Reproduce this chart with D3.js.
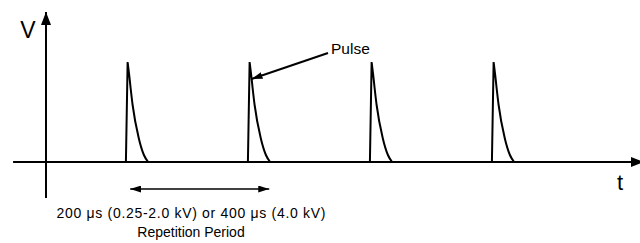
<!DOCTYPE html>
<html>
<head>
<meta charset="utf-8">
<script src="https://cdn.jsdelivr.net/npm/d3@7"></script>
<style>
  body { margin: 0; background: #fff; }
  text { font-family: "Liberation Sans", Arial, sans-serif; fill: #000; }
</style>
</head>
<body>
<div id="chart"></div>
<script>
const W = 640, H = 243;

// pulse onsets (µs) and one pulse shape [dt µs, relative V]
const pulseStarts = [131, 331, 531, 731];
const riseShape = [[0, 0], [2.8, 1]];
const decayShape = [[2.8, 1], [5.4, 0.87], [7.7, 0.74], [11, 0.57], [21, 0.24], [29.5, 0.07], [36.5, 0]];

// axis extents and annotation positions (µs / V units)
const xAxisRange = [-54, 980];
const yAxisRange = [-0.36, 1.5];
const periodSpan = [138, 366];
const periodLines = ["200 μs (0.25-2.0 kV) or 400 μs (4.0 kV)", "Repetition Period"];
const pulseLabel = "Pulse";

const x = d3.scaleLinear().domain([0, 1000]).range([46, 656]);
const y = d3.scaleLinear().domain([0, 1]).range([162, 62]);

const svg = d3.select("#chart")
  .append("svg")
  .attr("width", W)
  .attr("height", H);

// arrowheads
const defs = svg.append("defs");
function marker(id, len, wid) {
  defs.append("marker")
    .attr("id", id)
    .attr("markerUnits", "userSpaceOnUse")
    .attr("markerWidth", len)
    .attr("markerHeight", wid)
    .attr("refX", len)
    .attr("refY", wid / 2)
    .attr("orient", "auto-start-reverse")
    .append("path")
    .attr("d", `M0,0L${len},${wid / 2}L0,${wid}Z`)
    .attr("fill", "#000");
}
marker("axisHead", 13, 10);
marker("smallHead", 11, 7);

// axes
svg.append("line")
  .attr("x1", x(xAxisRange[0])).attr("x2", x(xAxisRange[1]))
  .attr("y1", y(0)).attr("y2", y(0))
  .attr("stroke", "#000").attr("stroke-width", 2)
  .attr("marker-end", "url(#axisHead)");

svg.append("line")
  .attr("x1", x(0)).attr("x2", x(0))
  .attr("y1", y(yAxisRange[0])).attr("y2", y(yAxisRange[1]))
  .attr("stroke", "#000").attr("stroke-width", 2)
  .attr("marker-end", "url(#axisHead)");

svg.append("text")
  .attr("x", 28).attr("y", 38)
  .attr("text-anchor", "middle")
  .style("font-size", "23px")
  .text("V");

svg.append("text")
  .attr("x", 620).attr("y", 190)
  .attr("text-anchor", "middle")
  .style("font-size", "22px")
  .text("t");

// pulses
const lineRise = d3.line()
  .x(d => x(d[0])).y(d => y(d[1]));
const lineDecay = d3.line()
  .x(d => x(d[0])).y(d => y(d[1]))
  .curve(d3.curveMonotoneX);

pulseStarts.forEach(t0 => {
  const shift = s => s.map(d => [t0 + d[0], d[1]]);
  svg.append("path")
    .attr("d", lineRise(shift(riseShape)) + lineDecay(shift(decayShape)))
    .attr("fill", "none")
    .attr("stroke", "#000")
    .attr("stroke-width", 2);
});

// pulse label + arrow
svg.append("line")
  .attr("x1", 328).attr("y1", 53)
  .attr("x2", x(pulseStarts[1] + 6)).attr("y2", y(0.83))
  .attr("stroke", "#000").attr("stroke-width", 2)
  .attr("marker-end", "url(#smallHead)");

svg.append("text")
  .attr("x", 331).attr("y", 54)
  .style("font-size", "15.5px")
  .text(pulseLabel);

// repetition period
svg.append("line")
  .attr("x1", x(periodSpan[0])).attr("x2", x(periodSpan[1]))
  .attr("y1", 189).attr("y2", 189)
  .attr("stroke", "#000").attr("stroke-width", 1.5)
  .attr("marker-start", "url(#smallHead)")
  .attr("marker-end", "url(#smallHead)");

svg.selectAll(".period")
  .data(periodLines)
  .enter()
  .append("text")
  .attr("class", "period")
  .attr("x", 191)
  .attr("y", (d, i) => 218 + i * 18.5)
  .attr("text-anchor", "middle")
  .style("font-size", "14px")
  .each(function(d, i) {
    if (i === 0) d3.select(this).attr("textLength", 269).attr("lengthAdjust", "spacing");
  })
  .text(d => d);
</script>
</body>
</html>
